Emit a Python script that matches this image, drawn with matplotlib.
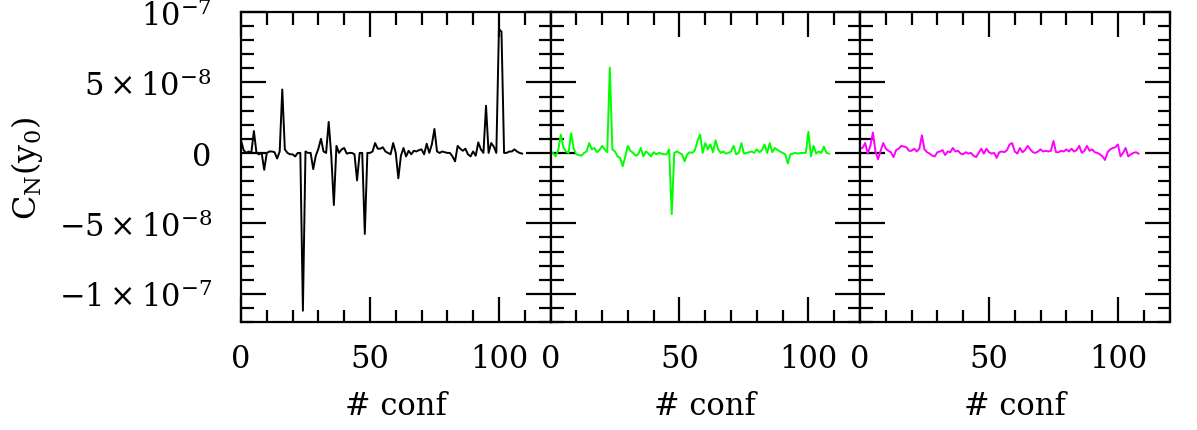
import matplotlib
matplotlib.use("Agg")
import matplotlib.pyplot as plt
import numpy as np
from matplotlib.ticker import MultipleLocator, FixedLocator, FixedFormatter

# C_N(y0) per configuration, in units of 1e-8
black_vals = [0.9, 0.2, 0.0, 0.1, 0.0, 1.55, 0.0, -0.1, 0.0, -1.2,
              0.0, 0.1, 0.1, 0.05, -0.4, 0.1, 4.5, 0.25, 0.0, -0.1,
              -0.1, -0.25, 0.0, 0.0, -11.2, 0.1, 0.0, 0.0, -1.15, -0.2,
              0.3, 1.0, 0.1, 0.0, 2.2, -0.2, -3.7, 0.5, 0.0, 0.25,
              0.35, -0.05, 0.0, 0.0, -0.1, -1.95, 0.0, 0.0, -5.75, 0.0,
              0.0, 0.1, 0.7, 0.3, 0.3, 0.4, 0.1, 0.0, -0.1, 0.7,
              0.0, -1.8, -0.2, 0.35, -0.25, 0.15, -0.1, 0.15, 0.1, 0.2,
              0.25, -0.1, 0.65, 0.0, 0.6, 1.7, 0.1, 0.0, 0.1, 0.05,
              0.0, 0.0, -0.25, -0.6, 0.5, 0.3, 0.15, 0.3, -0.1, -0.25,
              0.1, -0.2, 0.75, 0.25, 0.0, 3.35, 0.0, 0.7, 0.45, 0.0,
              8.8, 8.6, 0.0, 0.0, 0.1, 0.1, 0.25, 0.1, 0.0, -0.05]
green_vals = [0.05, 0.0, -0.25, 0.2, 1.3, 0.4, 0.1, 0.0, 1.4, 0.3,
              -0.1, -0.15, -0.2, 0.0, 0.1, 0.7, 0.25, 0.35, 0.05, 0.2,
              0.5, 0.25, 0.05, 6.05, 0.25, 0.1, -0.25, -0.35, -0.95, -0.25,
              0.5, 0.15, 0.0, -0.2, -0.1, 0.35, -0.25, 0.1, -0.05, -0.25,
              0.05, -0.1, 0.0, -0.05, -0.1, -0.1, 0.25, -4.35, 0.0, 0.1,
              0.0, -0.1, -0.6, -0.1, 0.05, 0.0, 0.2, 0.85, 1.3, 0.0,
              0.7, 0.25, 0.6, 0.05, 0.9, 0.25, 0.0, 0.1, -0.05, 0.0,
              0.1, 0.5, -0.1, 0.0, 0.7, -0.05, 0.0, 0.05, 0.1, 0.0,
              0.25, 0.05, 0.2, 0.6, 0.0, 0.7, 0.05, 0.35, 0.2, 0.1,
              0.0, -0.1, -0.75, -0.1, -0.05, 0.0, -0.05, 0.0, 0.0, 0.0,
              1.5, -0.25, 0.5, -0.05, 0.1, 0.0, 0.45, 0.0, -0.05]
magenta_vals = [0.3, 0.35, 0.7, -0.05, 0.5, 1.45, 0.1, -0.45, 0.15, 0.7,
                0.3, 0.15, 0.05, -0.3, 0.2, 0.3, 0.5, 0.45, 0.4, 0.15,
                0.15, 0.3, 0.1, 0.3, 1.25, 0.25, 0.05, -0.05, -0.2, -0.25,
                0.05, 0.1, 0.2, -0.15, 0.1, 0.05, 0.35, 0.1, 0.15, -0.05,
                -0.1, 0.05, -0.05, 0.0, -0.2, -0.3, 0.0, 0.3, -0.05, 0.3,
                0.05, -0.05, 0.0, -0.35, 0.05, 0.1, 0.05, 0.2, 0.6, 0.7,
                0.1, -0.05, 0.35, 0.05, 0.2, 0.5, 0.25, 0.05, 0.0, 0.1,
                0.25, 0.1, 0.15, 0.1, 0.15, 0.85, 0.05, 0.05, 0.15, 0.1,
                0.25, 0.1, 0.3, 0.1, 0.2, 0.5, 0.0, 0.15, 0.5, 0.15,
                0.25, 0.05, 0.0, -0.1, -0.25, -0.5, 0.05, 0.25, 0.35, 0.4,
                0.6, -0.25, 0.0, 0.35, -0.25, -0.1, 0.0, 0.05, -0.05]

series = [black_vals, green_vals, magenta_vals]
colors = ["black", "#00ff00", "#ff00ff"]

ytick_vals = [1e-7, 5e-8, 0, -5e-8, -1e-7]
ytick_labels = [r"$10^{-7}$", r"$5\times10^{-8}$", "0",
                r"$-5\times10^{-8}$", r"$-1\times10^{-7}$"]
xtick_vals = [0, 50, 100]

plt.rcParams["font.family"] = "DejaVu Serif"
plt.rcParams["mathtext.fontset"] = "dejavuserif"

fig = plt.figure(figsize=(11.97, 4.31), dpi=100)
left, bottom, top = 241 / 1197, 1 - 323 / 431, 1 - 13 / 431
w = 309.5 / 1197
axes = []
for i in range(3):
    ax = fig.add_axes([left + i * w, bottom, w, top - bottom])
    vals = np.array(series[i]) * 1e-8
    ax.plot(np.arange(len(vals)), vals, color=colors[i], lw=1.4)
    ax.set_xlim(0, 120)
    ax.set_ylim(-1.2e-7, 1e-7)
    ax.xaxis.set_major_locator(FixedLocator(xtick_vals))
    ax.xaxis.set_minor_locator(MultipleLocator(10))
    ax.yaxis.set_major_locator(FixedLocator(ytick_vals))
    ax.yaxis.set_major_formatter(FixedFormatter(ytick_labels))
    ax.yaxis.set_minor_locator(MultipleLocator(1e-8))
    ax.tick_params(which="both", direction="in", top=True, right=True,
                   width=1.6, labelsize=22)
    ax.tick_params(which="major", length=18)
    ax.tick_params(which="minor", length=9)
    ax.tick_params(axis="x", pad=15)
    ax.tick_params(axis="y", pad=21)
    for s in ax.spines.values():
        s.set_linewidth(1.6)
    ax.set_xlabel("# conf", fontsize=22, labelpad=12)
    if i > 0:
        ax.tick_params(axis="y", labelleft=False)
    axes.append(ax)

axes[0].set_ylabel(r"$\mathrm{C_N(y_0)}$", fontsize=23, labelpad=10)

fig.savefig("out.png", dpi=100)
